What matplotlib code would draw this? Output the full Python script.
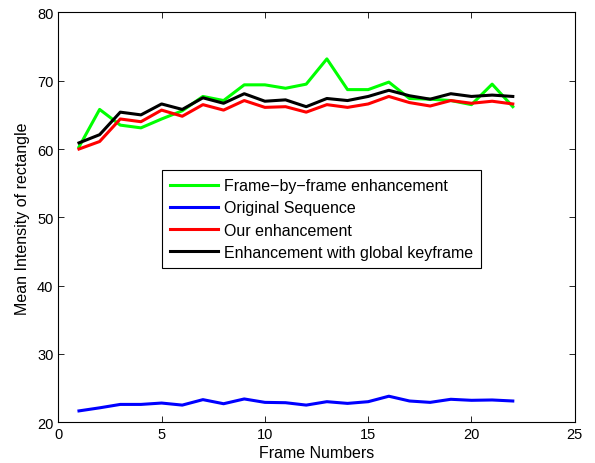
import matplotlib
matplotlib.use("Agg")
import matplotlib.pyplot as plt

plt.rcParams['font.family'] = ['Liberation Sans', 'DejaVu Sans']

frames = list(range(1, 23))
frame_by_frame = [60.3, 65.8, 63.5, 63.1, 64.4, 65.6, 67.7, 67.1, 69.4, 69.4, 68.9,
                  69.5, 73.2, 68.7, 68.7, 69.8, 67.4, 67.3, 67.1, 66.5, 69.5, 66.2]
original = [21.65, 22.1, 22.6, 22.6, 22.8, 22.5, 23.3, 22.7, 23.4, 22.9, 22.85,
            22.5, 23.0, 22.75, 23.0, 23.8, 23.1, 22.9, 23.35, 23.2, 23.25, 23.1]
ours = [60.0, 61.1, 64.4, 64.0, 65.7, 64.8, 66.5, 65.7, 67.1, 66.1, 66.2,
        65.4, 66.5, 66.1, 66.6, 67.7, 66.8, 66.3, 67.1, 66.7, 67.0, 66.6]
global_key = [60.9, 62.1, 65.4, 65.0, 66.6, 65.8, 67.5, 66.7, 68.1, 67.0, 67.2,
              66.2, 67.4, 67.1, 67.7, 68.6, 67.8, 67.3, 68.1, 67.7, 67.9, 67.7]

labels = ["Frame\u2212by\u2212frame enhancement", "Original Sequence",
          "Our enhancement", "Enhancement with global keyframe"]
colors = ["#00ff00", "#0000ff", "#ff0000", "#000000"]

fig = plt.figure(figsize=(5.95, 4.64), dpi=100)
ax = fig.add_axes([0.098, 0.088, 0.868, 0.883])

for series, lab, col in zip([frame_by_frame, original, ours, global_key], labels, colors):
    ax.plot(frames, series, color=col, linewidth=2.2, label=lab)

ax.set_xlim(0, 25)
ax.set_ylim(20, 80)
ax.set_xticks([0, 5, 10, 15, 20, 25])
ax.set_yticks([20, 30, 40, 50, 60, 70, 80])
ax.tick_params(direction='in', top=True, right=True, labelsize=10.5, length=4, width=0.6)
for s in ax.spines.values():
    s.set_linewidth(0.8)
ax.set_xlabel("Frame Numbers", fontsize=11.5, labelpad=3)
ax.set_ylabel("Mean Intensity of rectangle", fontsize=11.5, labelpad=5)

leg = ax.legend(loc='upper left', bbox_to_anchor=(0.2007, 0.615), fontsize=11.5,
                frameon=True, fancybox=False, edgecolor='black', framealpha=1,
                handlelength=3.0, borderpad=0.5, labelspacing=0.45, handletextpad=0.4,
                borderaxespad=0)
leg.get_frame().set_linewidth(0.8)

fig.savefig("out.png", dpi=100)
